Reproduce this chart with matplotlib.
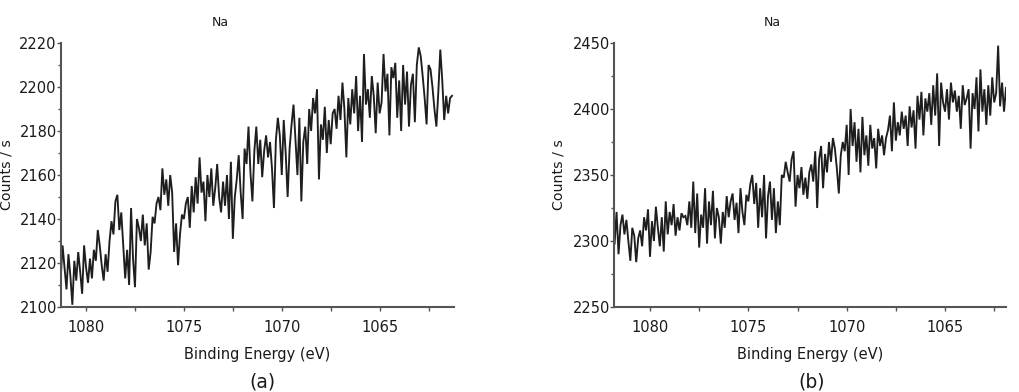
import numpy as np
import matplotlib
matplotlib.use("Agg")
import matplotlib.pyplot as plt
from matplotlib.ticker import MultipleLocator

# ---- data ----
energy_a_start, energy_step = 1081.3, 0.1
counts_a = [
    2112, 2128, 2118, 2108, 2124, 2114, 2101, 2121, 2112, 2125,
    2116, 2106, 2128, 2118, 2111, 2122, 2113, 2126, 2121, 2135,
    2128, 2119, 2112, 2124, 2116, 2130, 2139, 2133, 2148, 2151,
    2135, 2143, 2128, 2113, 2126, 2110, 2145, 2122, 2109, 2140,
    2136, 2130, 2142, 2128, 2138, 2117, 2125, 2141, 2138, 2147,
    2150, 2144, 2163, 2151, 2158, 2146, 2160, 2152, 2125, 2138,
    2119, 2133, 2142, 2140, 2147, 2150, 2136, 2155, 2143, 2159,
    2147, 2168, 2152, 2157, 2139, 2160, 2150, 2163, 2146, 2154,
    2165, 2150, 2143, 2157, 2146, 2160, 2140, 2166, 2131, 2150,
    2158, 2169, 2152, 2140, 2172, 2165, 2182, 2161, 2148, 2171,
    2182, 2165, 2176, 2159, 2171, 2178, 2168, 2175, 2163, 2145,
    2176, 2186, 2178, 2160, 2185, 2170, 2150, 2172, 2183, 2192,
    2176, 2160, 2186, 2148, 2175, 2182, 2165, 2190, 2180, 2195,
    2188, 2199, 2158, 2183, 2176, 2191, 2170, 2185, 2174, 2188,
    2190, 2181, 2196, 2185, 2202, 2190, 2168, 2195, 2183, 2199,
    2188, 2205, 2180, 2196, 2175, 2215, 2192, 2199, 2186, 2205,
    2196, 2179, 2202, 2188, 2193, 2215, 2198, 2206, 2178, 2209,
    2204, 2211, 2186, 2203, 2180, 2210, 2192, 2207, 2182, 2201,
    2206, 2184, 2210, 2218, 2214, 2205, 2195, 2183, 2210, 2208,
    2200, 2190, 2182, 2198, 2217, 2203, 2185, 2196, 2188, 2195,
    2196,
]

energy_b_start = 1081.8
counts_b = [
    2298, 2322, 2290, 2312, 2320, 2305, 2316, 2300, 2285, 2310,
    2304, 2284, 2302, 2308, 2296, 2318, 2308, 2324, 2288, 2315,
    2300, 2326, 2310, 2296, 2318, 2292, 2330, 2305, 2322, 2312,
    2328, 2304, 2318, 2308, 2321, 2318, 2319, 2312, 2330, 2310,
    2345, 2306, 2336, 2295, 2320, 2310, 2340, 2298, 2330, 2312,
    2338, 2302, 2325, 2318, 2298, 2322, 2310, 2334, 2318, 2330,
    2336, 2316, 2329, 2306, 2340, 2322, 2312, 2335, 2330, 2343,
    2350, 2328, 2344, 2310, 2340, 2318, 2350, 2302, 2334, 2345,
    2316, 2340, 2306, 2330, 2312, 2350, 2348, 2360, 2352, 2345,
    2362, 2368, 2326, 2350, 2340, 2356, 2335, 2348, 2332, 2352,
    2358, 2345, 2368, 2325, 2362, 2372, 2340, 2366, 2352, 2375,
    2360, 2378, 2370, 2355, 2336, 2365, 2375, 2368, 2388, 2350,
    2400, 2372, 2390, 2360, 2385, 2352, 2394, 2365, 2380, 2357,
    2388, 2370, 2378, 2355, 2385, 2372, 2380, 2365, 2378, 2384,
    2395, 2368, 2405, 2376, 2390, 2380, 2398, 2385, 2395, 2372,
    2402, 2386, 2399, 2370, 2410, 2392, 2413, 2380, 2408, 2398,
    2412, 2388, 2418, 2395, 2427, 2372, 2420, 2405, 2398, 2415,
    2392, 2420, 2405, 2414, 2398, 2410, 2385, 2418, 2403, 2408,
    2415, 2370, 2412, 2400, 2424, 2383, 2430, 2398, 2415, 2388,
    2418, 2395, 2424, 2405, 2412, 2448, 2402, 2420, 2398, 2416,
]

xticks = [1080, 1075, 1070, 1065]
title = "Na"
xlabel = "Binding Energy (eV)"
ylabel = "Counts / s"
panel_labels = ["(a)", "(b)"]

energy_a = energy_a_start - energy_step * np.arange(len(counts_a))
energy_b = energy_b_start - energy_step * np.arange(len(counts_b))

fig = plt.figure(figsize=(10.19, 3.92), dpi=100)
W, H = 1019, 392

specs = [
    dict(x=energy_a, y=counts_a, left=61, right=454, xlim=(1081.28, 1061.2),
         ylim=(2100, 2220), ymaj=20, ymin=10, ylab_x=7, plab_x=262),
    dict(x=energy_b, y=counts_b, left=614, right=1006, xlim=(1081.83, 1061.9),
         ylim=(2250, 2450), ymaj=50, ymin=25, ylab_x=558, plab_x=812),
]
top, bottom = 43, 307
spine_col = "#555555"
txt_col = "#1a1a1a"
for s, plab in zip(specs, panel_labels):
    ax = fig.add_axes([s["left"] / W, 1 - bottom / H, (s["right"] - s["left"]) / W, (bottom - top) / H])
    ax.plot(s["x"], s["y"], color="#1e1e1e", lw=1.35, solid_joinstyle="miter")
    ax.set_xlim(*s["xlim"])
    ax.set_ylim(*s["ylim"])
    ax.set_xticks(xticks)
    ax.xaxis.set_minor_locator(MultipleLocator(2.5))
    ax.yaxis.set_major_locator(MultipleLocator(s["ymaj"]))
    ax.yaxis.set_minor_locator(MultipleLocator(s["ymin"]))
    for sp in ["top", "right"]:
        ax.spines[sp].set_visible(False)
    for sp in ["left", "bottom"]:
        ax.spines[sp].set_color(spine_col)
        ax.spines[sp].set_linewidth(1.5)
    ax.tick_params(axis="both", which="both", direction="out", color=spine_col, width=1.0)
    ax.tick_params(axis="y", which="major", length=3, pad=0, labelsize=10.5, labelcolor=txt_col)
    ax.tick_params(axis="y", which="minor", length=2)
    ax.tick_params(axis="x", which="major", length=3, pad=6, labelsize=10.5, labelcolor=txt_col)
    ax.tick_params(axis="x", which="minor", length=3)
    ax.text(0.405, 1.076, title, transform=ax.transAxes, ha="center", va="center",
            fontsize=9, color=txt_col)
    ax.set_xlabel(xlabel, fontsize=10.5, color=txt_col, labelpad=9)
    fig.text(s["ylab_x"] / W, 1 - 175 / H, ylabel, rotation=90, ha="center", va="center",
             fontsize=10.2, color=txt_col)
    fig.text(s["plab_x"] / W, 1 - 382 / H, plab, ha="center", va="center",
             fontsize=13.5, color=txt_col)

fig.savefig("out.png", dpi=100)
